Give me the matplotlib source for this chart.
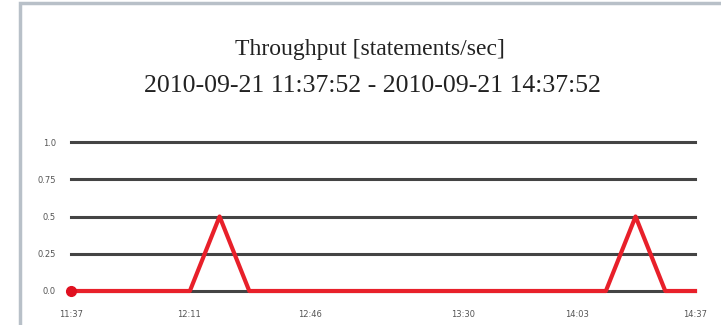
import matplotlib
matplotlib.use("Agg")
import matplotlib.pyplot as plt
from matplotlib.patches import Rectangle
import numpy as np

title_line1 = "Throughput [statements/sec]"
title_line2 = "2010-09-21 11:37:52 - 2010-09-21 14:37:52"

# minutes since 11:37:52, one sample every 180/21 minutes
n_points = 22
throughput = [0, 0, 0, 0, 0, 0.5, 0, 0, 0, 0, 0, 0, 0, 0, 0, 0, 0, 0, 0, 0.5, 0, 0]
x_tick_minutes = [0, 34, 69, 113, 146, 180]
x_tick_labels = ["11:37", "12:11", "12:46", "13:30", "14:03", "14:37"]
y_ticks = [0.0, 0.25, 0.5, 0.75, 1.0]
y_tick_labels = ["0.0", "0.25", "0.5", "0.75", "1.0"]

minutes = np.linspace(0, 180, n_points)

W, H = 721, 325
fig = plt.figure(figsize=(W / 100, H / 100), dpi=100)
fig.patch.set_facecolor("white")

# outer frame (cropped on right and bottom)
fig.patches.append(Rectangle((20 / W, -0.05), 1.1, 1 - 3 / H + 0.05, transform=fig.transFigure,
                             fill=False, edgecolor="#b8c0c8", linewidth=2.5))

fig.text(370 / W, 1 - 55 / H, title_line1, ha="center", va="baseline",
         family="Liberation Serif", fontsize=17, color="#222222")
fig.text(372 / W, 1 - 92 / H, title_line2, ha="center", va="baseline",
         family="Liberation Serif", fontsize=18.5, color="#222222")

ax = fig.add_axes([71 / W, 1 - 291 / H, (695 - 71) / W, (291 - 142) / H])
ax.set_xlim(0, 180)
ax.set_ylim(0, 1)
for s in ax.spines.values():
    s.set_visible(False)
for yv in y_ticks:
    ax.axhline(yv, color="#444444", linewidth=2.2, zorder=1, clip_on=False)
ax.plot(minutes, throughput, color="#e8202a", linewidth=3, zorder=3, clip_on=False)
ax.plot(minutes[:1], throughput[:1], "o", color="#e01020", markersize=7, zorder=4, clip_on=False)

ax.set_yticks(y_ticks)
ax.set_yticklabels(y_tick_labels, fontsize=6, color="#555555")
ax.set_xticks(x_tick_minutes)
ax.set_xticklabels(x_tick_labels, fontsize=6, color="#555555")
ax.tick_params(length=0)
ax.tick_params(axis="y", pad=11)
ax.tick_params(axis="x", pad=14)

fig.savefig("out.png", dpi=100)
